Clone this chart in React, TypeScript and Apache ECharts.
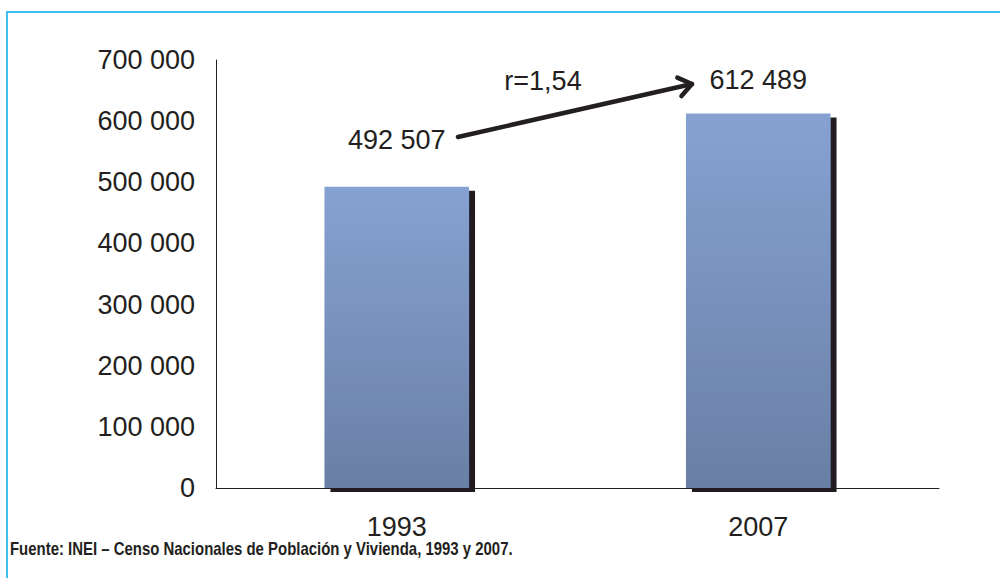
import React, { useEffect, useRef } from "react";
import * as echarts from "echarts";

const categories = ["1993", "2007"];
const values = [492507, 612489];
const labelOffsets = [-28, -15];
const yTicks = [0, 100000, 200000, 300000, 400000, 500000, 600000, 700000];
const rateText = "r=1,54";
const sourceText = "Fuente: INEI \u2013 Censo Nacionales de Poblaci\u00f3n y Vivienda, 1993 y 2007.";

const fmt = (v: number) => String(Math.round(v)).replace(/\B(?=(\d{3})+(?!\d))/g, " ");

export default function App() {
  const ref = useRef<HTMLDivElement>(null);
  useEffect(() => {
    if (!ref.current) return;
    const chart = echarts.init(ref.current, undefined, { renderer: "svg" });
    const font = "Liberation Sans, Arial, sans-serif";
    const textColor = "#231f20";
    // arrow geometry (annotation)
    const x1 = 458, y1 = 137, x2 = 692, y2 = 84;
    const ang = Math.atan2(y2 - y1, x2 - x1);
    const armLen = 16, armAng = (36 * Math.PI) / 180;
    const a1 = [x2 - armLen * Math.cos(ang - armAng), y2 - armLen * Math.sin(ang - armAng)];
    const a2 = [x2 - armLen * Math.cos(ang + armAng), y2 - armLen * Math.sin(ang + armAng)];
    chart.setOption({
      animation: false,
      backgroundColor: "#ffffff",
      grid: { left: 216, right: 61, top: 60, bottom: 90, containLabel: false },
      xAxis: {
        type: "category",
        data: categories,
        axisLine: { lineStyle: { color: "#231f20", width: 1 } },
        axisTick: { show: false },
        axisLabel: { fontSize: 27, lineHeight: 24, color: textColor, fontFamily: font, margin: 27 },
      },
      yAxis: {
        type: "value",
        min: yTicks[0],
        max: yTicks[yTicks.length - 1],
        interval: yTicks[1] - yTicks[0],
        axisLine: { show: true, lineStyle: { color: "#231f20", width: 1 } },
        axisTick: { show: false },
        splitLine: { show: false },
        axisLabel: {
          fontSize: 27,
          color: textColor,
          fontFamily: font,
          margin: 21,
          formatter: (v: number) => fmt(v),
        },
      },
      series: [
        {
          type: "bar",
          barWidth: "40%",
          data: values.map((v, i) => ({
            value: v,
            label: { offset: [0, labelOffsets[i]] },
          })),
          itemStyle: {
            color: new echarts.graphic.LinearGradient(0, 0, 0, 1, [
              { offset: 0, color: "#86a2d2" },
              { offset: 1, color: "#6a7fa5" },
            ]),
            shadowColor: "#231f20",
            shadowBlur: 0,
            shadowOffsetX: 6,
            shadowOffsetY: 4,
          },
          label: {
            show: true,
            position: "top",
            fontSize: 27,
            color: textColor,
            fontFamily: font,
            formatter: (p: any) => fmt(p.value),
          },
        },
      ],
      graphic: [
        {
          type: "polyline",
          silent: true,
          shape: { points: [[7, 578], [7, 12], [1000, 12]] },
          style: { stroke: "#3ec0f0", lineWidth: 2, fill: null },
        },
        {
          type: "line",
          shape: { x1, y1, x2, y2 },
          style: { stroke: "#231f20", lineWidth: 4.5, lineCap: "round" },
        },
        {
          type: "polyline",
          shape: { points: [a1, [x2, y2], a2] },
          style: { stroke: "#231f20", lineWidth: 4.5, lineCap: "round", lineJoin: "round", fill: null },
        },
        {
          type: "text",
          x: 543,
          y: 81,
          style: {
            text: rateText,
            fontSize: 27,
            fill: textColor,
            fontFamily: font,
            align: "center",
            verticalAlign: "middle",
          },
        },
        {
          type: "text",
          x: 10,
          y: 549,
          scaleX: 0.83,
          style: {
            text: sourceText,
            fontSize: 18,
            fontWeight: "bold",
            fill: textColor,
            fontFamily: font,
            align: "left",
            verticalAlign: "middle",
          },
        },
      ],
    });
    return () => chart.dispose();
  }, []);
  return (
    <div
      ref={ref}
      style={{ position: "fixed", left: 0, top: 0, width: 1000, height: 578 }}
    />
  );
}
